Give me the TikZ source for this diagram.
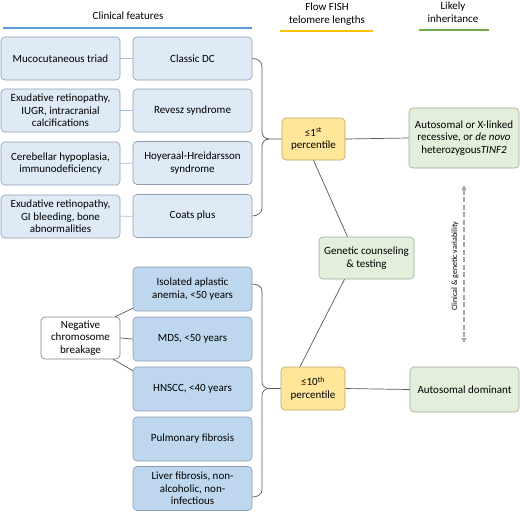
\documentclass[tikz,border=0pt]{standalone}
\usepackage{fontspec}
\setmainfont{Carlito}
\usetikzlibrary{arrows.meta}
\definecolor{lblue}{HTML}{DEEAF6}
\definecolor{dblue}{HTML}{BDD7EE}
\definecolor{yel}{HTML}{FFE699}
\definecolor{grn}{HTML}{E2EFDA}
\definecolor{bgray}{HTML}{8C9BAE}
\definecolor{ygray}{HTML}{B9A468}
\definecolor{ggray}{HTML}{9EA89A}
\definecolor{cgray}{HTML}{595959}
\definecolor{hblue}{HTML}{5B9BD5}
\definecolor{hyel}{HTML}{FFC000}
\definecolor{hgrn}{HTML}{70AD47}
\definecolor{lconn}{HTML}{9DC3E6}
\definecolor{agray}{HTML}{A6A6A6}
\begin{document}
\begin{tikzpicture}[x=1pt,y=-1pt,
  txt/.style={font=\fontsize{11}{12.6}\selectfont, align=center, inner sep=2pt},
  basebox/.style={txt, rounded corners=4pt, line width=0.6pt},
  lbox/.style={basebox, draw=bgray, fill=lblue, minimum width=119pt, minimum height=43pt},
  dbox/.style={basebox, draw=bgray, fill=dblue, minimum width=119pt, minimum height=44pt},
  wbox/.style={basebox, draw=gray, fill=white, minimum width=79pt, minimum height=42pt},
  ybox/.style={basebox, draw=ygray, fill=yel, minimum width=63pt, minimum height=42pt},
  gbox/.style={basebox, draw=ggray, fill=grn},
  hdr/.style={txt},
  conn/.style={draw=cgray, line width=0.7pt},
  lcon/.style={draw=lconn, line width=0.8pt},
  varr/.style={draw=agray, line width=1.1pt, dash pattern=on 5pt off 2.5pt,
    {Triangle[length=5pt,width=4.5pt]}-{Triangle[length=5pt,width=4.5pt]}}
]
\useasboundingbox (0,0) rectangle (520,512);

% headers
\node[hdr] (hclin) at (128,15.5) {Clinical features};
\node[hdr] (hflow) at (327,14) {Flow FISH\\telomere lengths};
\node[hdr] (hinh) at (453,12) {Likely\\inheritance};
\draw[hblue, line width=1.1pt] (3,28) -- (252,28);
\draw[hyel, line width=1.3pt] (280,31) -- (373,31);
\draw[hgrn, line width=1.1pt] (419,30) -- (489,30);

% top group
\node[lbox] (muco) at (60.5,58.5) {Mucocutaneous triad};
\node[lbox] (cdc) at (192.5,58.5) {Classic DC};
\node[lbox] (exud1) at (60.5,110.5) {Exudative retinopathy,\\IUGR, intracranial\\calcifications};
\node[lbox] (revesz) at (192.5,110.5) {Revesz syndrome};
\node[lbox] (cereb) at (60.5,163.5) {Cerebellar hypoplasia,\\immunodeficiency};
\node[lbox] (hh) at (192.5,163) {Hoyeraal-Hreidarsson\\syndrome};
\node[lbox] (exud2) at (60.5,216.5) {Exudative retinopathy,\\GI bleeding, bone\\abnormalities};
\node[lbox] (coats) at (192.5,216) {Coats plus};

\draw[lcon] (muco) -- (cdc);
\draw[lcon] (exud1) -- (revesz);
\draw[lcon] (cereb) -- (hh);
\draw[lcon] (exud2) -- (coats);

% bottom group
\node[dbox] (aa) at (192.5,289) {Isolated aplastic\\anemia, <50 years};
\node[dbox] (mds) at (192.5,339) {MDS, <50 years};
\node[dbox] (hnscc) at (192.5,389) {HNSCC, <40 years};
\node[dbox] (pulm) at (192.5,439) {Pulmonary fibrosis};
\node[dbox] (liver) at (192.5,488.5) {Liver fibrosis, non-\\alcoholic, non-\\infectious};
\node[wbox] (neg) at (80.5,338) {Negative\\chromosome\\breakage};

\draw[conn] ([xshift=-5pt]neg.north east) -- ([yshift=3pt]aa.south west);
\draw[conn] (neg.east) -- (mds.west);
\draw[conn] ([xshift=-7pt]neg.south east) -- ([yshift=-4pt]hnscc.north west);

% percentile boxes
\node[ybox] (p1) at (313.5,139) {≤1\textsuperscript{st}\\percentile};
\node[ybox, minimum width=64pt, minimum height=43pt] (p10) at (313,388.5) {≤10\textsuperscript{th}\\percentile};

% inheritance boxes
\node[gbox, minimum width=110pt, minimum height=60pt] (ar) at (464,138) {Autosomal or X-linked\\recessive, or \textit{de novo}\\heterozygous\textit{TINF2}};
\node[gbox, minimum width=109pt, minimum height=45pt] (ad) at (464.5,389.5) {Autosomal dominant};
\node[gbox, minimum width=95pt, minimum height=42pt] (gc) at (366.5,258) {Genetic counseling\\\& testing};

% braces
\draw[conn] (cdc.east) to[out=0,in=90] (262,66) -- (262,132) to[out=-90,in=180] (269,139) -- (p1.west);
\draw[conn] (coats.east) to[out=0,in=-90] (262,208) -- (262,146) to[out=90,in=180] (269,139);
\draw[conn] ([yshift=5pt]aa.east) to[out=0,in=90] (262,291) -- (262,382) to[out=-90,in=180] (269,388.5) -- (p10.west);
\draw[conn] ([yshift=-8.5pt]liver.east) to[out=0,in=-90] (262,490) -- (262,395) to[out=90,in=180] (269,388.5);

% other connectors
\draw[conn] (p1.east) -- (ar.west);
\draw[conn] (p10.east) -- (ad.west);
\draw[conn] (p1.south) -- ([xshift=-19pt]gc.north);
\draw[conn] ([xshift=-22pt]gc.south) -- ([xshift=-13pt]p10.north);

% variability arrow
\coordinate (vt) at (464,185);
\coordinate (vb) at (464,343);
\draw[varr] (vt) -- (vb);
\node[rotate=90, font=\fontsize{8}{9.5}\selectfont, inner sep=1pt] (vlab) at (455,266) {Clinical \& genetic variability};
\end{tikzpicture}
\end{document}
